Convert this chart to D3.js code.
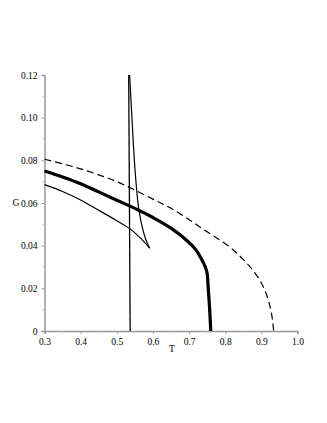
<!DOCTYPE html>
<html><head><meta charset="utf-8">
<script src="https://cdn.jsdelivr.net/npm/d3@7"></script>
<style>body{margin:0;background:#fff;} svg{display:block;}</style>
</head><body>
<svg id="c" width="327" height="423"></svg>
<script>
const xTicks = [0.3,0.4,0.5,0.6,0.7,0.8,0.9,1.0];
const yTicks = [0,0.02,0.04,0.06,0.08,0.10,0.12];
const thickT = [0.30,0.35,0.40,0.45,0.50,0.55,0.60,0.65,0.70,0.72,0.735,0.745,0.750,0.753,0.757,0.760];
const thickG = [0.075,0.0722,0.0690,0.0652,0.0613,0.0575,0.0532,0.0482,0.0415,0.0378,0.0335,0.0300,0.0270,0.020,0.010,0.0];
const dashT = [0.30,0.40,0.50,0.60,0.65,0.70,0.75,0.81,0.84,0.868,0.895,0.914,0.928,0.934];
const dashG = [0.0805,0.0760,0.0700,0.0618,0.0575,0.0522,0.0465,0.0397,0.0352,0.0302,0.0240,0.0172,0.0083,0.0];
const lowerT = [0.30,0.35,0.40,0.45,0.50,0.535,0.56,0.58,0.591];
const lowerG = [0.0686,0.0654,0.0614,0.0566,0.0517,0.0481,0.0445,0.041,0.0388];
const upperT = [0.591,0.580,0.570,0.563,0.558,0.553,0.549,0.545,0.541,0.537,0.5355];
const upperG = [0.0388,0.043,0.049,0.055,0.061,0.070,0.079,0.090,0.103,0.115,0.120];
const vertT = [0.533,0.537];
const vertG = [0.12,0.0];

const svg = d3.select("#c");
const x = d3.scaleLinear().domain([0.3,1.0]).range([44.5,297.5]);
const y = d3.scaleLinear().domain([0,0.12]).range([331,75]);
const font = "'Liberation Serif', serif";
const axCol = "#999";

const xAxis = d3.axisBottom(x).tickValues(xTicks).tickSize(3).tickFormat(d3.format(".1f"));
const gx = svg.append("g").attr("transform","translate(0,331)").call(xAxis);
const yAxis = d3.axisLeft(y).tickValues(yTicks).tickSize(3).tickFormat(d => d===0 ? "0" : d3.format(".2f")(d));
const gy = svg.append("g").attr("transform","translate(44.5,0)").call(yAxis);
[gx,gy].forEach(g=>{
  g.select(".domain").attr("stroke",axCol).attr("stroke-width",1.5);
  g.selectAll(".tick line").attr("stroke",axCol);
  g.selectAll("text").attr("fill","#000").attr("font-family",font).attr("font-size",9.5);
});
gx.selectAll("text").attr("dy","0.85em");
gy.selectAll("text").attr("dx","-1");
const xMinor = d3.range(0.35,1.0,0.1);
svg.append("g").selectAll("line").data(xMinor).join("line")
  .attr("x1",d=>x(d)).attr("x2",d=>x(d)).attr("y1",331).attr("y2",333)
  .attr("stroke","#bbb");
const yMinor = d3.range(0.01,0.12,0.02);
svg.append("g").selectAll("line").data(yMinor).join("line")
  .attr("y1",d=>y(d)).attr("y2",d=>y(d)).attr("x1",44.5).attr("x2",42.5)
  .attr("stroke","#bbb");

svg.append("text").attr("x",16).attr("y",y(0.06)).attr("dy","0.32em").attr("text-anchor","middle")
  .attr("font-family",font).attr("font-size",9.5).text("G");
svg.append("text").attr("x",172).attr("y",352).attr("text-anchor","middle")
  .attr("font-family",font).attr("font-size",9.5).text("T");

const zip = (a,b)=>a.map((v,i)=>[v,b[i]]);
const lineCR = d3.line().curve(d3.curveCatmullRom.alpha(0.5)).x(d=>x(d[0])).y(d=>y(d[1]));
const lineL = d3.line().x(d=>x(d[0])).y(d=>y(d[1]));

svg.append("path").attr("d",lineCR(zip(dashT,dashG))).attr("fill","none")
  .attr("stroke","#000").attr("stroke-width",1.2).attr("stroke-dasharray","7,4");
svg.append("path").attr("d",lineL(zip(vertT,vertG))).attr("fill","none")
  .attr("stroke","#000").attr("stroke-width",1.3);
svg.append("path").attr("d",lineCR(zip(lowerT,lowerG))).attr("fill","none")
  .attr("stroke","#000").attr("stroke-width",1.2);
svg.append("path").attr("d",lineCR(zip(upperT,upperG))).attr("fill","none")
  .attr("stroke","#000").attr("stroke-width",1.2);
svg.append("path").attr("d",lineCR(zip(thickT,thickG))).attr("fill","none")
  .attr("stroke","#000").attr("stroke-width",3.2).attr("stroke-linejoin","round");
</script>
</body></html>
